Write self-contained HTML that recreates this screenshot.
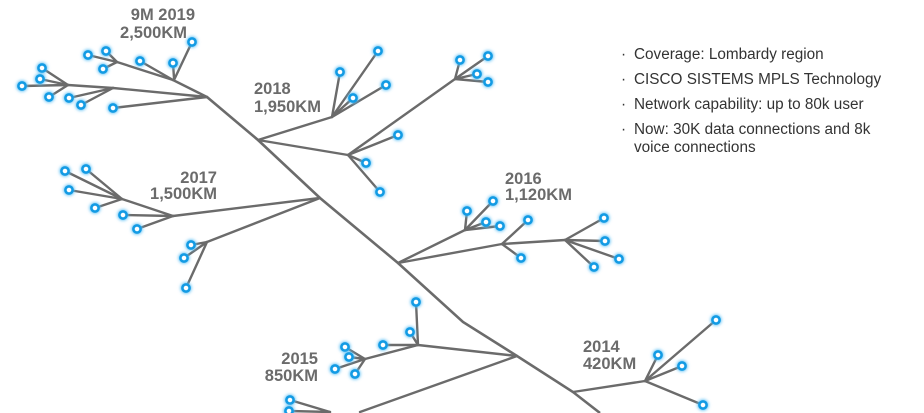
<!DOCTYPE html>
<html><head><meta charset="utf-8">
<style>
html,body{margin:0;padding:0;background:#fff;width:924px;height:413px;overflow:hidden}
svg{display:block}
.lbl{font-family:"Liberation Sans",sans-serif;font-weight:bold;font-size:16.5px;fill:#6b6b6b}
.bt{font-family:"Liberation Sans",sans-serif;font-size:15.3px;fill:#333}
</style></head>
<body>
<svg id="tree" width="924" height="413" viewBox="0 0 924 413" xmlns="http://www.w3.org/2000/svg">
<defs>
<filter id="glow" x="-100%" y="-100%" width="300%" height="300%"><feGaussianBlur stdDeviation="1.6"/></filter>
</defs>
<g id="edges"></g>
<g id="nodes"></g>
<g>
<text class="lbl" x="195" y="20" text-anchor="end">9M 2019</text>
<text class="lbl" x="187" y="38" text-anchor="end">2,500KM</text>
<text class="lbl" x="254" y="94">2018</text>
<text class="lbl" x="254" y="112">1,950KM</text>
<text class="lbl" x="217" y="183" text-anchor="end">2017</text>
<text class="lbl" x="217" y="199" text-anchor="end">1,500KM</text>
<text class="lbl" x="505" y="184">2016</text>
<text class="lbl" x="505" y="200">1,120KM</text>
<text class="lbl" x="318" y="364" text-anchor="end">2015</text>
<text class="lbl" x="318" y="381" text-anchor="end">850KM</text>
<text class="lbl" x="583" y="352">2014</text>
<text class="lbl" x="583" y="369">420KM</text>
</g>
<g>
<text class="bt" x="621" y="59">·</text><text class="bt" x="634" y="59">Coverage: Lombardy region</text>
<text class="bt" x="621" y="84">·</text><text class="bt" x="634" y="84">CISCO SISTEMS MPLS Technology</text>
<text class="bt" x="621" y="109">·</text><text class="bt" x="634" y="109">Network capability: up to 80k user</text>
<text class="bt" x="621" y="134">·</text><text class="bt" x="634" y="134">Now: 30K data connections and 8k</text>
<text class="bt" x="634" y="152">voice connections</text>
</g>
</svg>
<script>
// trunk polyline
const trunk = [[207,97],[258,140],[320,198],[398,263],[463,322],[517,356],[573,392],[600,413]];
// internal branches [x1,y1,x2,y2]
const branches = [
 [207,97,173,80],[173,80,117,62],[207,97,113,88],[113,88,68,85],
 [258,140,332,117],[258,140,348,155],[348,155,455,79],
 [320,198,173,216],[173,216,122,199],[320,198,207,242],
 [398,263,465,230],[398,263,502,244],[502,244,565,240],
 [517,356,418,345],[418,345,365,359],[517,356,360,412],
 [573,392,645,381]
];
// leaves: [x,y,hubX,hubY]
const leaves = [
 [192,42,174,80],[173,63,174,78],[140,61,173,80],[88,55,117,62],[106,51,117,62],[103,69,117,62],
 [42,68,68,85],[40,79,68,85],[22,86,68,85],[49,97,68,85],[69,98,113,88],[81,105,113,88],[113,108,207,97],
 [340,72,332,117],[378,51,332,117],[353,98,332,117],[386,85,332,117],
 [398,135,348,155],[366,163,348,155],[380,192,348,155],
 [460,60,455,79],[488,56,455,79],[477,74,455,79],[488,82,455,79],
 [65,171,122,199],[86,169,122,199],[69,190,122,199],[95,208,122,199],[123,215,173,216],[137,229,173,216],
 [191,245,207,242],[184,258,207,242],[186,288,207,242],
 [467,211,465,230],[493,201,465,230],[486,222,465,230],[500,226,465,230],
 [528,220,502,244],[521,258,502,244],
 [604,218,565,240],[605,241,565,240],[619,259,565,240],[594,267,565,240],
 [416,302,418,345],[410,332,418,345],[383,345,418,345],
 [345,347,365,359],[349,357,365,359],[335,369,365,359],[355,374,365,359],
 [290,400,330,412],[289,411,330,412],
 [716,320,645,381],[658,355,645,381],[682,366,645,381],[703,405,645,381]
];
const NS='http://www.w3.org/2000/svg';
const eg=document.getElementById('edges'), ng=document.getElementById('nodes');
const tp=document.createElementNS(NS,'polyline');
tp.setAttribute('points',trunk.map(p=>p.join(',')).join(' '));
tp.setAttribute('fill','none');tp.setAttribute('stroke','#6b6b6b');tp.setAttribute('stroke-width','2.6');


eg.appendChild(tp);
function line(x1,y1,x2,y2){
 const l=document.createElementNS(NS,'line');
 l.setAttribute('x1',x1);l.setAttribute('y1',y1);l.setAttribute('x2',x2);l.setAttribute('y2',y2);
 l.setAttribute('stroke','#6b6b6b');l.setAttribute('stroke-width','2.4');l.setAttribute('stroke-linecap','round');
 eg.appendChild(l);return l;
}
branches.forEach(b=>{
 const l=line(b[0],b[1],b[2],b[3]);
 
 
});
leaves.forEach(v=>{
 const l=line(v[0],v[1],v[2],v[3]);
 
 
 const g=document.createElementNS(NS,'circle');
 g.setAttribute('cx',v[0]);g.setAttribute('cy',v[1]);g.setAttribute('r','5.5');
 g.setAttribute('fill','#5cc0f5');g.setAttribute('filter','url(#glow)');
 
 
 ng.appendChild(g);
 const c=document.createElementNS(NS,'circle');
 c.setAttribute('cx',v[0]);c.setAttribute('cy',v[1]);c.setAttribute('r','3.6');
 c.setAttribute('fill','#fff');c.setAttribute('stroke','#139be4');c.setAttribute('stroke-width','2.6');
 
 
 ng.appendChild(c);
});
</script>
</body></html>
